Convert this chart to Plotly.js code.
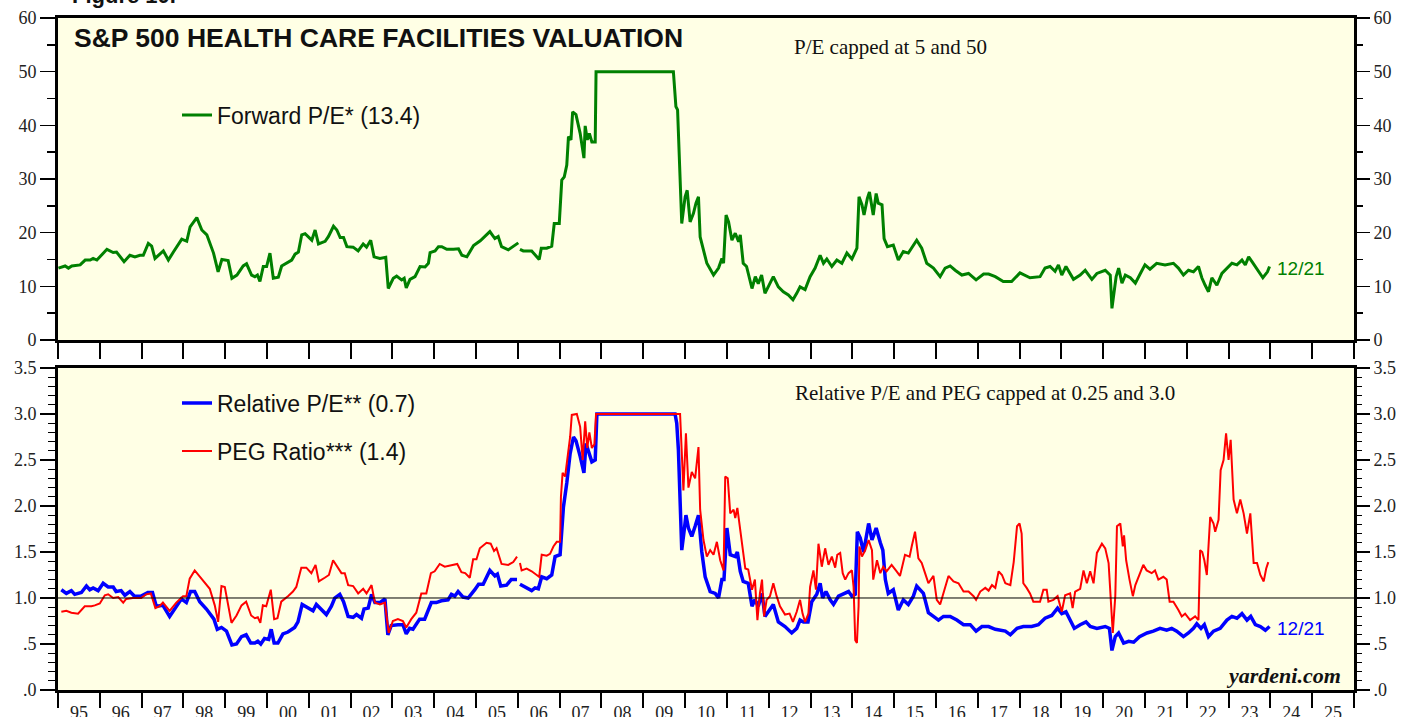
<!DOCTYPE html>
<html>
<head>
<meta charset="utf-8">
<script src="https://cdn.plot.ly/plotly-3.0.1.min.js"></script>
<style>
  html, body { margin: 0; padding: 0; background: #fff; }
  #chart { width: 1406px; height: 717px; }
</style>
</head>
<body>
<div id="chart"></div>
<script>
// [decimal year, value]; null = gap in the series
const forwardPE = [
  [1995.01,13.4],[1995.17,13.8],[1995.25,13.4],[1995.33,13.8],[1995.53,14.0],[1995.65,14.9],[1995.77,14.9],[1995.84,15.2],[1995.93,14.9],
  [1996.17,16.9],[1996.32,16.3],[1996.40,16.4],[1996.58,14.6],[1996.72,15.8],[1996.84,15.5],[1996.96,15.8],
  [1997.04,15.8],[1997.16,18.0],[1997.24,17.5],[1997.32,15.2],[1997.52,16.6],[1997.64,14.9],[1997.76,16.4],[1997.96,18.8],
  [1998.08,18.4],[1998.16,21.1],[1998.32,22.8],[1998.44,20.5],[1998.56,19.6],[1998.72,16.2],[1998.83,12.7],[1998.92,15.0],
  [1999.07,14.8],[1999.16,11.5],[1999.28,12.1],[1999.43,13.8],[1999.51,14.2],[1999.63,12.1],[1999.71,11.8],[1999.77,12.1],[1999.83,10.9],[1999.91,13.7],[1999.99,13.7],
  [2000.07,16.2],[2000.15,11.5],[2000.27,11.7],[2000.35,13.8],[2000.47,14.4],[2000.59,14.9],[2000.67,16.0],[2000.75,16.4],[2000.83,19.6],[2000.91,19.8],
  [2001.07,18.6],[2001.15,20.5],[2001.23,17.9],[2001.39,18.4],[2001.47,19.3],[2001.59,21.2],[2001.67,20.5],[2001.75,19.1],[2001.83,19.1],[2001.91,17.4],
  [2002.06,17.3],[2002.18,16.6],[2002.30,17.9],[2002.38,17.3],[2002.48,18.6],[2002.56,15.5],[2002.70,15.2],[2002.84,15.4],[2002.90,9.6],
  [2003.02,11.5],[2003.10,11.9],[2003.22,11.2],[2003.28,11.5],[2003.33,9.7],[2003.42,11.3],[2003.54,11.8],[2003.66,13.7],[2003.78,13.6],[2003.86,14.3],[2003.90,16.3],
  [2004.02,16.6],[2004.10,17.4],[2004.18,17.4],[2004.30,16.9],[2004.46,16.9],[2004.58,17.0],[2004.66,15.8],[2004.78,15.5],[2004.94,17.6],
  [2005.10,18.5],[2005.33,20.2],[2005.45,18.9],[2005.53,19.3],[2005.61,17.4],[2005.77,16.8],[2006.01,18.1],[2006.03,null],
  [2006.05,16.9],[2006.13,16.6],[2006.33,16.6],[2006.41,15.8],[2006.51,15.0],[2006.56,17.1],[2006.69,17.1],[2006.81,17.5],[2006.87,21.7],[2006.99,21.7],
  [2007.05,29.8],[2007.11,30.4],[2007.17,32.6],[2007.21,37.9],[2007.27,37.3],[2007.31,42.5],[2007.39,42.0],[2007.49,38.5],[2007.58,33.9],[2007.61,39.9],
  [2007.66,37.3],[2007.71,38.5],[2007.77,36.9],[2007.85,36.9],[2007.87,50],[2009.72,50],[2009.78,43.5],[2009.82,42.9],[2009.88,27.9],[2009.92,21.7],
  [2010.00,26.7],[2010.05,27.9],[2010.12,22.0],[2010.20,23.6],[2010.26,25.5],[2010.32,26.7],[2010.36,19.2],[2010.44,16.8],[2010.52,14.3],[2010.68,12.1],
  [2010.80,13.4],[2010.88,15.2],[2010.92,14.3],[2010.98,23.3],[2011.04,22.0],[2011.12,18.6],[2011.20,19.9],[2011.28,18.3],[2011.32,19.6],[2011.39,14.3],
  [2011.47,13.7],[2011.60,9.6],[2011.68,11.8],[2011.75,10.5],[2011.83,12.1],[2011.91,8.7],[2012.03,10.6],[2012.11,11.8],[2012.23,9.9],[2012.35,9.0],
  [2012.47,8.4],[2012.58,7.5],[2012.67,8.7],[2012.75,9.9],[2012.87,9.4],[2012.99,11.8],[2013.11,13.4],[2013.23,15.8],[2013.31,14.3],[2013.39,15.1],
  [2013.51,13.7],[2013.63,14.9],[2013.75,14.3],[2013.87,16.2],[2013.99,15.1],[2014.11,17.1],[2014.16,26.7],[2014.23,25.2],[2014.28,23.3],[2014.36,26.4],
  [2014.41,27.6],[2014.50,23.3],[2014.57,27.3],[2014.62,25.5],[2014.71,25.2],[2014.76,18.9],[2014.84,17.4],[2014.98,17.7],[2015.10,14.9],[2015.22,16.5],
  [2015.34,16.2],[2015.54,18.6],[2015.66,17.1],[2015.78,14.3],[2015.94,13.4],[2016.10,11.8],[2016.22,13.4],[2016.34,13.8],[2016.46,13.0],[2016.62,12.1],
  [2016.78,12.4],[2016.96,11.2],[2017.14,12.3],[2017.26,12.3],[2017.42,11.8],[2017.61,10.9],[2017.81,10.9],[2018.01,12.5],[2018.25,11.6],[2018.49,11.8],
  [2018.61,13.4],[2018.73,13.7],[2018.85,12.8],[2018.93,14.0],[2019.01,12.1],[2019.11,13.7],[2019.29,11.3],[2019.45,12.1],[2019.57,13.0],[2019.73,11.3],
  [2019.85,12.4],[2020.05,13.0],[2020.17,12.1],[2020.21,5.9],[2020.31,11.8],[2020.37,13.4],[2020.45,10.6],[2020.53,12.1],[2020.65,11.6],[2020.77,10.6],
  [2020.89,12.4],[2021.00,14.0],[2021.12,13.2],[2021.28,14.3],[2021.48,14.0],[2021.68,14.3],[2021.80,13.4],[2021.92,12.1],[2022.04,13.0],[2022.16,12.7],
  [2022.28,13.7],[2022.36,11.6],[2022.44,10.2],[2022.52,9.0],[2022.60,11.6],[2022.72,10.2],[2022.84,12.4],[2022.96,13.4],[2023.08,14.3],[2023.20,14.0],
  [2023.32,14.9],[2023.40,14.0],[2023.48,15.5],[2023.56,14.6],[2023.64,13.7],[2023.72,12.7],[2023.82,11.6],[2023.93,12.7],[2023.98,13.7]
];

const relativePE = [
  [1995.08,1.09],[1995.20,1.05],[1995.32,1.08],[1995.40,1.04],[1995.56,1.06],[1995.68,1.13],[1995.76,1.09],[1995.84,1.11],[1995.96,1.08],
  [1996.08,1.16],[1996.20,1.12],[1996.32,1.12],[1996.39,1.07],[1996.51,1.08],[1996.60,1.03],[1996.72,1.07],[1996.83,1.02],[1996.99,1.02],
  [1997.15,1.06],[1997.26,1.06],[1997.35,0.91],[1997.51,0.92],[1997.67,0.80],[1997.79,0.88],[1997.95,0.99],
  [1998.07,0.95],[1998.17,1.07],[1998.27,1.07],[1998.39,0.96],[1998.55,0.88],[1998.73,0.77],[1998.81,0.66],[1998.91,0.68],
  [1999.03,0.64],[1999.16,0.49],[1999.27,0.50],[1999.39,0.58],[1999.50,0.60],[1999.61,0.51],[1999.71,0.51],[1999.78,0.53],[1999.85,0.50],[1999.94,0.56],
  [2000.04,0.55],[2000.10,0.66],[2000.17,0.51],[2000.26,0.51],[2000.38,0.61],[2000.50,0.63],[2000.66,0.68],[2000.74,0.74],[2000.84,0.93],[2000.98,0.89],
  [2001.10,0.86],[2001.18,0.93],[2001.30,0.88],[2001.42,0.82],[2001.54,0.91],[2001.62,1.00],[2001.74,1.04],[2001.83,0.96],[2001.94,0.80],
  [2002.06,0.79],[2002.14,0.82],[2002.26,0.78],[2002.32,0.88],[2002.42,0.89],[2002.50,1.04],[2002.58,0.95],[2002.70,0.95],[2002.82,0.99],[2002.89,0.60],[2002.97,0.70],
  [2003.13,0.71],[2003.25,0.71],[2003.33,0.61],[2003.41,0.67],[2003.49,0.66],[2003.65,0.77],[2003.77,0.77],[2003.93,0.95],
  [2004.05,0.95],[2004.17,0.97],[2004.33,0.98],[2004.41,1.04],[2004.49,1.02],[2004.57,1.07],[2004.69,1.01],[2004.81,1.00],[2004.97,1.09],
  [2005.06,1.15],[2005.17,1.15],[2005.33,1.30],[2005.45,1.24],[2005.51,1.26],[2005.59,1.13],[2005.73,1.14],[2005.84,1.20],[2005.98,1.20],[2006.02,null],
  [2006.05,1.15],[2006.21,1.11],[2006.33,1.08],[2006.41,1.11],[2006.49,1.10],[2006.57,1.23],[2006.69,1.21],[2006.81,1.25],[2006.89,1.45],
  [2007.01,1.47],[2007.09,1.99],[2007.17,2.25],[2007.25,2.57],[2007.33,2.75],[2007.39,2.71],[2007.49,2.54],[2007.58,2.36],[2007.63,2.68],[2007.71,2.57],
  [2007.77,2.48],[2007.85,2.50],[2007.89,3.0],[2009.76,3.0],[2009.80,2.90],[2009.84,2.61],[2009.88,2.07],[2009.92,1.52],[2009.98,1.74],
  [2010.02,1.90],[2010.08,1.76],[2010.16,1.67],[2010.24,1.78],[2010.32,1.90],[2010.40,1.50],[2010.48,1.23],[2010.60,1.07],[2010.72,1.05],[2010.80,1.00],
  [2010.88,1.20],[2010.93,1.20],[2011.00,1.76],[2011.08,1.47],[2011.20,1.45],[2011.25,1.50],[2011.32,1.29],[2011.39,1.18],[2011.51,1.16],[2011.60,0.91],
  [2011.67,0.98],[2011.75,0.91],[2011.84,1.05],[2011.91,0.80],[2012.03,0.87],[2012.11,0.93],[2012.23,0.74],[2012.39,0.69],[2012.55,0.62],[2012.67,0.67],
  [2012.75,0.76],[2012.83,0.74],[2012.94,0.74],[2013.03,0.96],[2013.15,1.04],[2013.23,1.16],[2013.29,1.00],[2013.37,1.07],[2013.47,0.98],[2013.55,0.93],
  [2013.67,1.02],[2013.79,1.04],[2013.91,1.07],[2013.99,1.02],[2014.07,1.04],[2014.12,1.72],[2014.19,1.65],[2014.27,1.50],[2014.35,1.72],[2014.39,1.81],
  [2014.47,1.63],[2014.57,1.76],[2014.67,1.60],[2014.73,1.52],[2014.79,1.20],[2014.86,1.05],[2014.98,1.09],[2015.10,0.87],[2015.22,0.98],[2015.34,0.93],
  [2015.46,1.02],[2015.54,1.13],[2015.70,1.05],[2015.82,0.84],[2015.94,0.80],[2016.06,0.76],[2016.18,0.80],[2016.34,0.80],[2016.50,0.76],[2016.66,0.71],
  [2016.82,0.71],[2016.96,0.64],[2017.10,0.69],[2017.26,0.69],[2017.42,0.66],[2017.54,0.65],[2017.66,0.64],[2017.78,0.60],[2017.94,0.67],[2018.09,0.69],
  [2018.29,0.69],[2018.45,0.71],[2018.61,0.78],[2018.77,0.81],[2018.91,0.89],[2019.01,0.83],[2019.11,0.85],[2019.21,0.76],[2019.31,0.67],[2019.45,0.71],
  [2019.59,0.74],[2019.69,0.69],[2019.85,0.67],[2020.05,0.69],[2020.15,0.67],[2020.21,0.43],[2020.29,0.58],[2020.37,0.62],[2020.49,0.51],[2020.61,0.53],
  [2020.73,0.52],[2020.87,0.58],[2021.05,0.62],[2021.20,0.64],[2021.36,0.67],[2021.52,0.65],[2021.64,0.67],[2021.76,0.64],[2021.92,0.58],[2022.04,0.62],
  [2022.16,0.67],[2022.24,0.72],[2022.34,0.67],[2022.42,0.71],[2022.52,0.58],[2022.64,0.64],[2022.80,0.67],[2022.96,0.76],[2023.08,0.80],[2023.20,0.78],
  [2023.32,0.83],[2023.44,0.76],[2023.53,0.80],[2023.64,0.71],[2023.76,0.69],[2023.88,0.65],[2023.98,0.69]
];

const pegRatio = [
  [1995.08,0.85],[1995.20,0.86],[1995.32,0.84],[1995.48,0.83],[1995.64,0.91],[1995.80,0.91],[1995.88,0.92],[1996.00,0.94],[1996.12,1.03],[1996.20,1.04],
  [1996.32,1.00],[1996.44,1.01],[1996.56,0.95],[1996.63,0.99],[1996.79,1.00],[1996.99,1.00],[1997.11,1.04],[1997.22,1.05],[1997.33,0.89],[1997.43,0.91],
  [1997.51,0.95],[1997.67,0.86],[1997.83,0.95],[1997.99,1.02],[1998.07,1.02],[1998.15,1.21],[1998.27,1.30],[1998.39,1.23],[1998.51,1.17],[1998.63,1.10],
  [1998.75,0.92],[1998.83,0.74],[1998.91,1.13],[1998.99,1.12],[1999.15,0.73],[1999.27,0.81],[1999.39,0.92],[1999.50,0.96],[1999.62,0.81],[1999.71,0.78],
  [1999.78,0.79],[1999.84,0.73],[1999.90,0.92],[1999.98,0.91],[2000.09,1.09],[2000.17,0.77],[2000.25,0.78],[2000.34,0.96],[2000.50,1.02],[2000.62,1.07],
  [2000.70,1.12],[2000.82,1.33],[2000.94,1.33],[2001.06,1.27],[2001.16,1.36],[2001.24,1.18],[2001.38,1.22],[2001.48,1.25],[2001.58,1.41],[2001.70,1.33],
  [2001.78,1.27],[2001.86,1.27],[2001.94,1.14],[2002.06,1.13],[2002.18,1.05],[2002.30,1.10],[2002.38,1.05],[2002.50,1.14],[2002.58,0.95],[2002.70,0.93],
  [2002.82,0.95],[2002.91,0.62],[2003.01,0.75],[2003.13,0.77],[2003.25,0.75],[2003.33,0.68],[2003.45,0.77],[2003.57,0.84],[2003.69,1.05],[2003.81,1.05],
  [2003.92,1.27],[2004.01,1.29],[2004.13,1.37],[2004.25,1.34],[2004.41,1.36],[2004.55,1.37],[2004.65,1.28],[2004.74,1.27],[2004.85,1.22],[2004.93,1.42],
  [2005.01,1.42],[2005.09,1.54],[2005.25,1.60],[2005.35,1.59],[2005.43,1.51],[2005.49,1.54],[2005.61,1.37],[2005.77,1.36],[2005.89,1.39],[2005.98,1.45],
  [2006.02,null],[2006.05,1.38],[2006.09,1.30],[2006.21,1.32],[2006.33,1.29],[2006.45,1.25],[2006.51,1.23],[2006.57,1.47],[2006.69,1.46],[2006.77,1.48],
  [2006.85,1.56],[2006.93,1.61],[2007.01,1.61],[2007.03,2.10],[2007.07,2.36],[2007.13,2.32],[2007.21,2.64],[2007.25,2.75],[2007.29,2.99],[2007.41,3.0],
  [2007.49,2.86],[2007.55,2.50],[2007.61,2.92],[2007.66,2.63],[2007.71,2.80],[2007.77,2.63],[2007.83,2.67],[2007.87,3.0],[2009.88,3.0],[2009.92,2.54],
  [2009.96,2.17],[2010.02,2.79],[2010.08,2.20],[2010.16,2.37],[2010.24,2.30],[2010.32,2.64],[2010.36,1.96],[2010.44,1.63],[2010.52,1.45],[2010.60,1.52],
  [2010.68,1.47],[2010.76,1.61],[2010.84,1.41],[2010.92,1.30],[2010.96,2.32],[2011.02,2.30],[2011.08,1.92],[2011.16,1.96],[2011.20,1.87],[2011.25,1.98],
  [2011.32,1.74],[2011.36,1.56],[2011.44,1.32],[2011.51,1.31],[2011.60,1.09],[2011.67,1.20],[2011.73,0.76],[2011.79,1.05],[2011.84,1.20],[2011.89,0.80],
  [2011.95,0.98],[2012.03,1.02],[2012.11,1.16],[2012.19,1.02],[2012.27,0.91],[2012.39,0.82],[2012.50,0.83],[2012.58,0.74],[2012.67,0.85],[2012.75,0.98],
  [2012.81,0.83],[2012.87,0.74],[2012.95,0.83],[2012.99,1.12],[2013.07,1.30],[2013.13,1.09],[2013.19,1.59],[2013.27,1.34],[2013.35,1.54],[2013.43,1.36],
  [2013.51,1.45],[2013.59,1.33],[2013.64,1.47],[2013.71,1.49],[2013.77,1.27],[2013.83,1.20],[2013.91,1.27],[2013.99,1.30],[2014.03,1.12],[2014.07,0.54],
  [2014.11,0.51],[2014.15,0.91],[2014.17,1.56],[2014.23,1.45],[2014.31,1.52],[2014.39,1.63],[2014.47,1.52],[2014.50,1.20],[2014.59,1.41],[2014.67,1.27],
  [2014.74,1.34],[2014.82,1.29],[2014.94,1.36],[2015.06,1.29],[2015.14,1.24],[2015.26,1.47],[2015.37,1.45],[2015.42,1.56],[2015.50,1.72],[2015.58,1.43],
  [2015.66,1.38],[2015.74,1.27],[2015.82,1.16],[2015.94,1.24],[2016.02,0.98],[2016.10,0.93],[2016.18,1.05],[2016.30,1.24],[2016.42,1.18],[2016.54,1.16],
  [2016.66,1.07],[2016.78,1.07],[2016.90,1.02],[2016.96,0.98],[2017.06,1.07],[2017.18,1.11],[2017.26,1.08],[2017.34,1.14],[2017.42,1.11],[2017.50,1.29],
  [2017.58,1.25],[2017.66,1.16],[2017.78,1.14],[2017.86,1.39],[2017.94,1.78],[2018.00,1.81],[2018.05,1.70],[2018.09,1.16],[2018.17,1.11],[2018.25,1.05],
  [2018.33,0.96],[2018.49,0.96],[2018.57,1.09],[2018.65,1.09],[2018.69,0.96],[2018.81,0.98],[2018.91,1.02],[2019.01,0.85],[2019.09,1.03],[2019.21,1.05],
  [2019.27,0.89],[2019.33,1.07],[2019.45,1.10],[2019.53,1.30],[2019.61,1.16],[2019.69,1.29],[2019.77,1.16],[2019.85,1.49],[2019.97,1.59],[2020.05,1.54],
  [2020.13,1.38],[2020.18,1.02],[2020.23,0.62],[2020.29,1.02],[2020.33,1.78],[2020.41,1.81],[2020.47,1.56],[2020.50,1.68],[2020.55,1.41],[2020.63,1.20],
  [2020.71,1.02],[2020.77,1.14],[2020.84,1.23],[2020.96,1.36],[2021.04,1.30],[2021.16,1.27],[2021.24,1.30],[2021.32,1.20],[2021.44,1.23],[2021.52,1.20],
  [2021.59,0.96],[2021.68,0.96],[2021.80,0.87],[2021.88,0.80],[2021.96,0.83],[2022.08,0.76],[2022.20,0.80],[2022.28,0.76],[2022.32,1.52],[2022.37,1.50],
  [2022.42,1.41],[2022.48,1.25],[2022.56,1.88],[2022.64,1.81],[2022.68,1.72],[2022.76,1.85],[2022.81,2.39],[2022.88,2.50],[2022.94,2.79],[2023.00,2.50],
  [2023.05,2.72],[2023.12,2.07],[2023.20,1.92],[2023.28,2.07],[2023.36,1.92],[2023.44,1.70],[2023.52,1.92],[2023.60,1.38],[2023.68,1.38],[2023.76,1.25],
  [2023.84,1.18],[2023.90,1.32],[2023.95,1.39]
];

const yearLabels = ['95','96','97','98','99','00','01','02','03','04','05','06','07','08','09',
                    '10','11','12','13','14','15','16','17','18','19','20','21','22','23','24','25'];
const peTickVals = [0, 10, 20, 30, 40, 50, 60];
const relTickVals = [0, 0.5, 1.0, 1.5, 2.0, 2.5, 3.0, 3.5];
const relTickText = ['.0', '.5', '1.0', '1.5', '2.0', '2.5', '3.0', '3.5'];
const lastDate = '12/21';

const GREEN = '#008000', BLUE = '#0000ff', RED = '#ff0000';
const serif = 'Liberation Serif, Times New Roman, serif';
const sans = 'Liberation Sans, Arial, sans-serif';
const tickFont = { family: serif, size: 18, color: '#222' };

const col = (rows, i) => rows.map(r => r[i]);
const last = rows => rows[rows.length - 1];
const labelPos = yearLabels.map((_, i) => 1995.5 + i);

const traces = [
  { x: col(forwardPE, 0), y: col(forwardPE, 1), xaxis: 'x', yaxis: 'y', type: 'scatter', mode: 'lines',
    name: 'Forward P/E* (13.4)', legend: 'legend', line: { color: GREEN, width: 3 } },
  { x: col(relativePE, 0), y: col(relativePE, 1), xaxis: 'x2', yaxis: 'y2', type: 'scatter', mode: 'lines',
    name: 'Relative P/E** (0.7)', legend: 'legend2', line: { color: BLUE, width: 3.5 } },
  { x: col(pegRatio, 0), y: col(pegRatio, 1), xaxis: 'x2', yaxis: 'y2', type: 'scatter', mode: 'lines',
    name: 'PEG Ratio*** (1.4)', legend: 'legend3', line: { color: RED, width: 2 } },
  // empty traces so the right-hand axes get drawn
  { x: [], y: [], xaxis: 'x', yaxis: 'y3', type: 'scatter', showlegend: false, hoverinfo: 'skip' },
  { x: [], y: [], xaxis: 'x2', yaxis: 'y4', type: 'scatter', showlegend: false, hoverinfo: 'skip' }
];

const frame = { showline: true, linewidth: 3, linecolor: '#000', mirror: true, showgrid: false, zeroline: false };
const peAxis = {
  range: [0, 60], showgrid: false, zeroline: false, tickmode: 'array', tickvals: peTickVals,
  ticks: 'outside', ticklen: 15, tickwidth: 1.5, tickcolor: '#000', tickfont: tickFont,
  minor: { tickmode: 'linear', tick0: 0, dtick: 5, ticks: 'outside', ticklen: 8, tickwidth: 1.5, tickcolor: '#000' }
};
const relAxis = {
  range: [0, 3.5], showgrid: false, zeroline: false, tickmode: 'array', tickvals: relTickVals, ticktext: relTickText,
  ticks: 'outside', ticklen: 15, tickwidth: 1.5, tickcolor: '#000', tickfont: tickFont,
  minor: { tickmode: 'linear', tick0: 0, dtick: 0.1, ticks: 'outside', ticklen: 7, tickwidth: 1.2, tickcolor: '#000' }
};

const px = p => (p - 58) / 1296;   // paper x from a pixel column
const py = p => (690 - p) / 672;   // paper y from a pixel row

const legendBase = { xanchor: 'left', yanchor: 'middle', bgcolor: 'rgba(0,0,0,0)', borderwidth: 0,
                     font: { family: sans, size: 23, color: '#111' } };

const layout = {
  width: 1406, height: 717,
  margin: { l: 58, r: 52, t: 18, b: 27 },
  paper_bgcolor: '#ffffff',
  plot_bgcolor: '#ffffe5',
  showlegend: true,
  hovermode: false,
  xaxis: Object.assign({}, frame, {
    domain: [0, 1], range: [1995, 2026], anchor: 'y', tickmode: 'linear', tick0: 1995, dtick: 1,
    ticks: 'outside', ticklen: 16, tickwidth: 2, tickcolor: '#000', showticklabels: false
  }),
  yaxis: Object.assign({}, frame, peAxis, { domain: [0.5208, 1], anchor: 'x' }),
  yaxis3: Object.assign({}, peAxis, { overlaying: 'y', side: 'right', anchor: 'x', showline: false }),
  xaxis2: Object.assign({}, frame, {
    domain: [0, 1], range: [1995, 2026], anchor: 'y2', tickmode: 'array', tickvals: labelPos, ticktext: yearLabels,
    ticks: 'outside', ticklen: 4, tickcolor: 'rgba(0,0,0,0)', tickfont: tickFont,
    minor: { tickmode: 'linear', tick0: 1995, dtick: 1, ticks: 'outside', ticklen: 15, tickwidth: 2, tickcolor: '#000' }
  }),
  yaxis2: Object.assign({}, frame, relAxis, { domain: [0, 0.4792], anchor: 'x2' }),
  yaxis4: Object.assign({}, relAxis, { overlaying: 'y2', side: 'right', anchor: 'x2', showline: false }),
  legend: Object.assign({}, legendBase, { x: px(177), y: py(115) }),
  legend2: Object.assign({}, legendBase, { x: px(177), y: py(403) }),
  legend3: Object.assign({}, legendBase, { x: px(177), y: py(451) }),
  shapes: [
    { type: 'line', xref: 'x2 domain', yref: 'y2', x0: 0, x1: 1, y0: 1, y1: 1, line: { color: '#000', width: 1 } }
  ],
  annotations: [
    { text: '<b>Figure 10.</b>', xref: 'paper', yref: 'paper', x: px(70), y: py(-5), xanchor: 'left', yanchor: 'middle',
      showarrow: false, font: { family: sans, size: 22, color: '#111' } },
    { text: '<b>S&P 500 HEALTH CARE FACILITIES VALUATION</b>', xref: 'paper', yref: 'paper', x: px(72), y: py(38),
      xanchor: 'left', yanchor: 'middle', showarrow: false, font: { family: sans, size: 26.5, color: '#111' } },
    { text: 'P/E capped at 5 and 50', xref: 'paper', yref: 'paper', x: px(890), y: py(47),
      xanchor: 'center', yanchor: 'middle', showarrow: false, font: { family: serif, size: 21, color: '#111' } },
    { text: 'Relative P/E and PEG capped at 0.25 and 3.0', xref: 'paper', yref: 'paper', x: px(985), y: py(393),
      xanchor: 'center', yanchor: 'middle', showarrow: false, font: { family: serif, size: 21, color: '#111' } },
    { text: '<b><i>yardeni.com</i></b>', xref: 'paper', yref: 'paper', x: px(1343), y: py(675),
      xanchor: 'right', yanchor: 'middle', showarrow: false, font: { family: serif, size: 22, color: '#111' } },
    { text: lastDate, xref: 'x', yref: 'y', x: last(forwardPE)[0], y: last(forwardPE)[1], xanchor: 'left', yanchor: 'middle',
      xshift: 5, yshift: -2, showarrow: false, font: { family: sans, size: 19, color: GREEN } },
    { text: lastDate, xref: 'x2', yref: 'y2', x: last(relativePE)[0], y: last(relativePE)[1], xanchor: 'left', yanchor: 'middle',
      xshift: 5, yshift: -2, showarrow: false, font: { family: sans, size: 19, color: BLUE } }
  ]
};

Plotly.newPlot('chart', traces, layout, { displayModeBar: false, staticPlot: true });
</script>
</body>
</html>
